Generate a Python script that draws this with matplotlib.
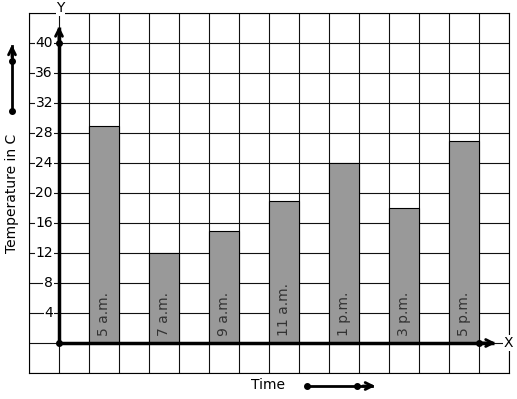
import matplotlib
matplotlib.use("Agg")
import matplotlib.pyplot as plt

times = ["5 a.m.", "7 a.m.", "9 a.m.", "11 a.m.", "1 p.m.", "3 p.m.", "5 p.m."]
temps = [29, 12, 15, 19, 24, 18, 27]
yticks = [4, 8, 12, 16, 20, 24, 28, 32, 36, 40]

W, H = 517, 399
fig = plt.figure(figsize=(W / 100, H / 100), dpi=100)
ax = fig.add_axes([29 / W, (H - 373) / H, 480 / W, 360 / H])
ax.set_xlim(-1, 15)
ax.set_ylim(-4, 44)
ax.set_xticks([])
ax.set_yticks([])
for s in ax.spines.values():
    s.set_linewidth(0.8)
    s.set_color("black")

# grid
for gx in range(-1, 16):
    ax.axvline(gx, color="#111111", lw=0.8, zorder=1)
for gy in range(-4, 45, 4):
    ax.axhline(gy, color="#111111", lw=0.8, zorder=1)

# bars
xpos = [2 * i + 1.5 for i in range(len(times))]
ax.bar(xpos, temps, width=1.0, color="#999999", edgecolor="black", lw=0.8, zorder=2)
for x, lab in zip(xpos, times):
    ax.text(x, 0.9, lab, rotation=90, ha="center", va="bottom", fontsize=10,
            color="#333333", zorder=3)

# axes with arrows
ax.plot([0, 14.5], [0, 0], color="black", lw=2.5, zorder=4, solid_capstyle="butt")
ax.plot([0, 0], [0, 42.2], color="black", lw=2.5, zorder=4, solid_capstyle="butt")
ax.annotate("", xy=(14.65, 0), xytext=(14.0, 0),
            arrowprops=dict(arrowstyle="->,head_length=0.5,head_width=0.25", lw=2, color="black"),
            annotation_clip=False, zorder=5)
ax.annotate("", xy=(0, 42.6), xytext=(0, 40),
            arrowprops=dict(arrowstyle="->,head_length=0.5,head_width=0.25", lw=2, color="black"),
            annotation_clip=False, zorder=5)
ax.plot([0, 0, 14], [0, 40, 0], "o", color="black", ms=4, zorder=6, clip_on=False)

ax.text(14.97, 0, "X", ha="center", va="center", fontsize=10, zorder=6,
        bbox=dict(fc="white", ec="none", pad=0.5), clip_on=False)
ax.text(0.05, 44.6, "Y", ha="center", va="center", fontsize=10, zorder=6,
        bbox=dict(fc="white", ec="none", pad=0.5), clip_on=False)

for v in yticks:
    ax.text(-0.2, v, str(v), ha="right", va="center", fontsize=10, zorder=6,
            bbox=dict(fc="white", ec="none", pad=0.5))

# left label and arrow
fig.text(12 / W, 1 - 193 / H, "Temperature in C", rotation=90, ha="center",
         va="center", fontsize=10)
fig.add_artist(plt.Line2D([12 / W, 12 / W], [1 - 111 / H, 1 - 46 / H],
                          color="black", lw=2, transform=fig.transFigure))
fig.patches.append(matplotlib.patches.FancyArrowPatch(
    (12 / W, 1 - 60 / H), (12 / W, 1 - 42 / H), transform=fig.transFigure,
    arrowstyle="->,head_length=0.5,head_width=0.25", lw=2, color="black",
    mutation_scale=10))
fig.add_artist(plt.Line2D([12 / W, 12 / W], [1 - 61 / H, 1 - 111 / H],
                          marker="o", ls="none", ms=4, color="black",
                          transform=fig.transFigure))

# bottom label and arrow
fig.text(268 / W, 1 - 385 / H, "Time", ha="center", va="center", fontsize=10)
fig.add_artist(plt.Line2D([307 / W, 372 / W], [1 - 386 / H, 1 - 386 / H],
                          color="black", lw=2, transform=fig.transFigure))
fig.patches.append(matplotlib.patches.FancyArrowPatch(
    (360 / W, 1 - 386 / H), (378 / W, 1 - 386 / H), transform=fig.transFigure,
    arrowstyle="->,head_length=0.5,head_width=0.25", lw=2, color="black",
    mutation_scale=10))
fig.add_artist(plt.Line2D([307 / W, 357 / W], [1 - 386 / H, 1 - 386 / H],
                          marker="o", ls="none", ms=4, color="black",
                          transform=fig.transFigure))

fig.savefig("out.png", dpi=100)
